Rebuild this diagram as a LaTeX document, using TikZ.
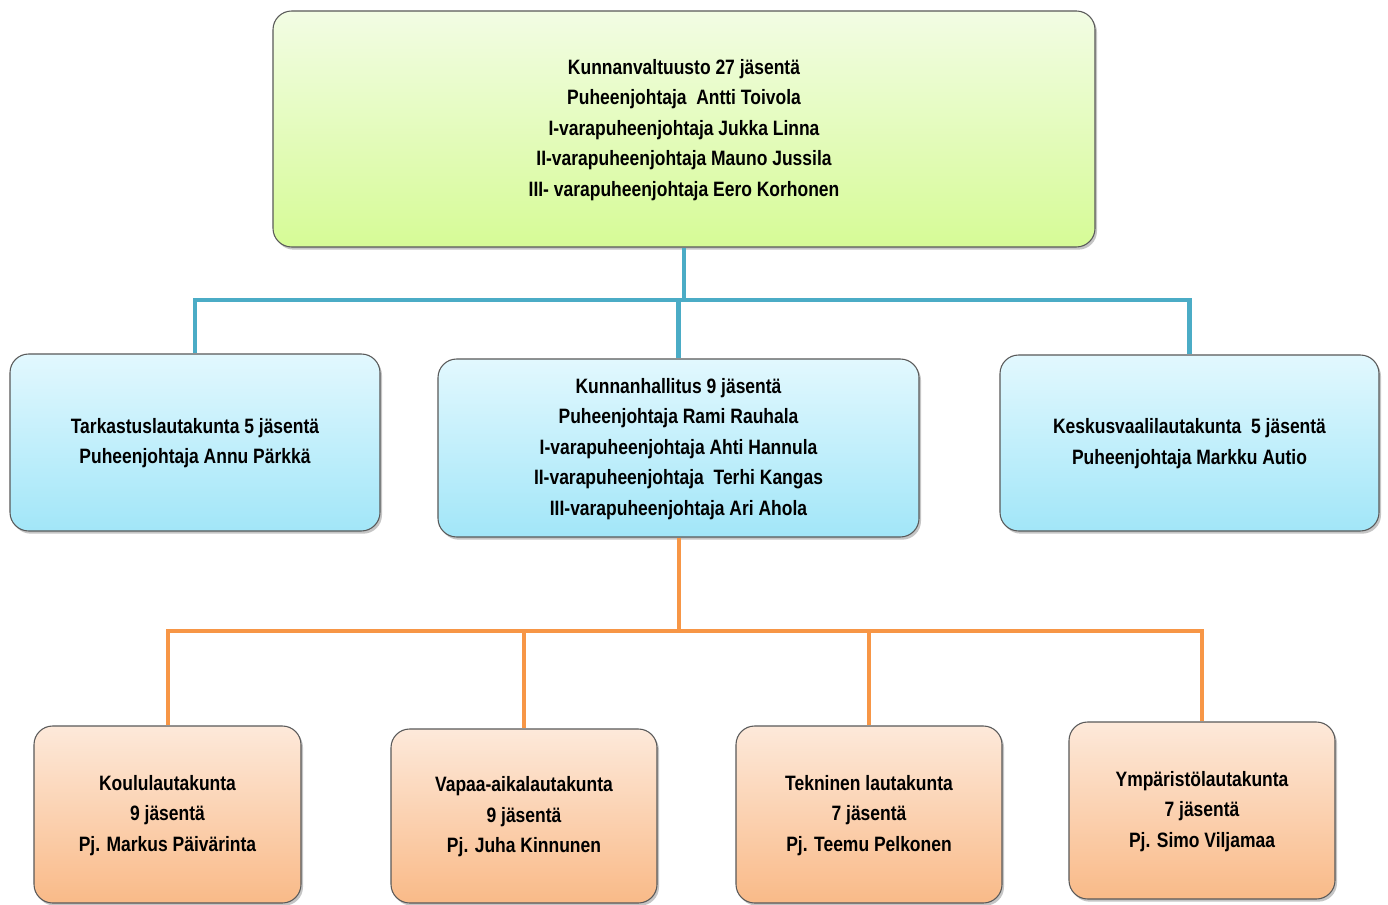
\documentclass[tikz,border=0pt]{standalone}
\usepackage{fontspec}
\setmainfont{Liberation Sans}[FakeStretch=0.84]
\usetikzlibrary{shadows}
\definecolor{bline}{HTML}{4BACC6}
\definecolor{oline}{HTML}{F79646}
\definecolor{gtop}{HTML}{F2FCE4}
\definecolor{gbot}{HTML}{D6FB96}
\definecolor{btop}{HTML}{E2F8FE}
\definecolor{bbot}{HTML}{A2E6F8}
\definecolor{otop}{HTML}{FDE9DA}
\definecolor{obot}{HTML}{F9BA88}
\newcommand\boxlines[1]{\raisebox{-1.6pt}{\begin{tabular}{@{}c@{}}#1\end{tabular}}}
\begin{document}
\begin{tikzpicture}[x=0.75pt,y=-0.75pt,
  box/.style={draw=black!65, line width=0.8pt, rounded corners=14pt,
    font=\fontsize{15.6}{22.9}\selectfont\bfseries, inner sep=0pt,
    drop shadow={opacity=0.45, shadow xshift=1.5pt, shadow yshift=-2pt}},
  green/.style={box, top color=gtop, bottom color=gbot},
  blue/.style={box, top color=btop, bottom color=bbot},
  orng/.style={box, top color=otop, bottom color=obot},
  bconn/.style={draw=bline, line width=3.6pt},
  oconn/.style={draw=oline, line width=3pt}]
\useasboundingbox (0,0) rectangle (1388,905);
\fill[white] (0,0) rectangle (1388,905);

\node[green, minimum width=822*0.75pt, minimum height=236*0.75pt] (top) at (684,129)
  {\boxlines{Kunnanvaltuusto 27 jäsentä\\ Puheenjohtaja\ \ Antti Toivola\\ I-varapuheenjohtaja Jukka Linna\\ II-varapuheenjohtaja Mauno Jussila\\ III- varapuheenjohtaja Eero Korhonen}};

\node[blue, minimum width=370*0.75pt, minimum height=177*0.75pt] (tark) at (195,442.5)
  {\boxlines{Tarkastuslautakunta 5 jäsentä\\ Puheenjohtaja Annu Pärkkä}};
\node[blue, minimum width=481*0.75pt, minimum height=178*0.75pt] (kh) at (678.5,448)
  {\boxlines{Kunnanhallitus 9 jäsentä\\ Puheenjohtaja Rami Rauhala\\ I-varapuheenjohtaja Ahti Hannula\\ II-varapuheenjohtaja\ \ Terhi Kangas\\ III-varapuheenjohtaja Ari Ahola}};
\node[blue, minimum width=379*0.75pt, minimum height=176*0.75pt] (kesk) at (1189.5,443)
  {\boxlines{Keskusvaalilautakunta\ \ 5 jäsentä\\ Puheenjohtaja Markku Autio}};

\node[orng, minimum width=267*0.75pt, minimum height=177*0.75pt] (koulu) at (167.5,814.5)
  {\boxlines{Koululautakunta\\ 9 jäsentä\\ Pj. Markus Päivärinta}};
\node[orng, minimum width=266*0.75pt, minimum height=174*0.75pt] (vapaa) at (524,816)
  {\boxlines{Vapaa-aikalautakunta\\ 9 jäsentä\\ Pj. Juha Kinnunen}};
\node[orng, minimum width=266*0.75pt, minimum height=177*0.75pt] (tek) at (869,814.5)
  {\boxlines{Tekninen lautakunta\\ 7 jäsentä\\ Pj. Teemu Pelkonen}};
\node[orng, minimum width=266*0.75pt, minimum height=177*0.75pt] (ymp) at (1202,810.5)
  {\boxlines{Ympäristölautakunta\\ 7 jäsentä\\ Pj. Simo Viljamaa}};

\coordinate (bj) at (684,300);
\coordinate (oj) at (678.5,631);
\draw[bconn] (top.south) -- (bj);
\draw[bconn] (tark.north) |- (bj) -| (kesk.north);
\draw[bconn] (kh.north) -- (kh.north |- bj);
\draw[oconn] (kh.south) -- (oj);
\draw[oconn] (koulu.north) |- (oj) -| (ymp.north);
\draw[oconn] (vapaa.north) -- (vapaa.north |- oj);
\draw[oconn] (tek.north) -- (tek.north |- oj);
\end{tikzpicture}
\end{document}
